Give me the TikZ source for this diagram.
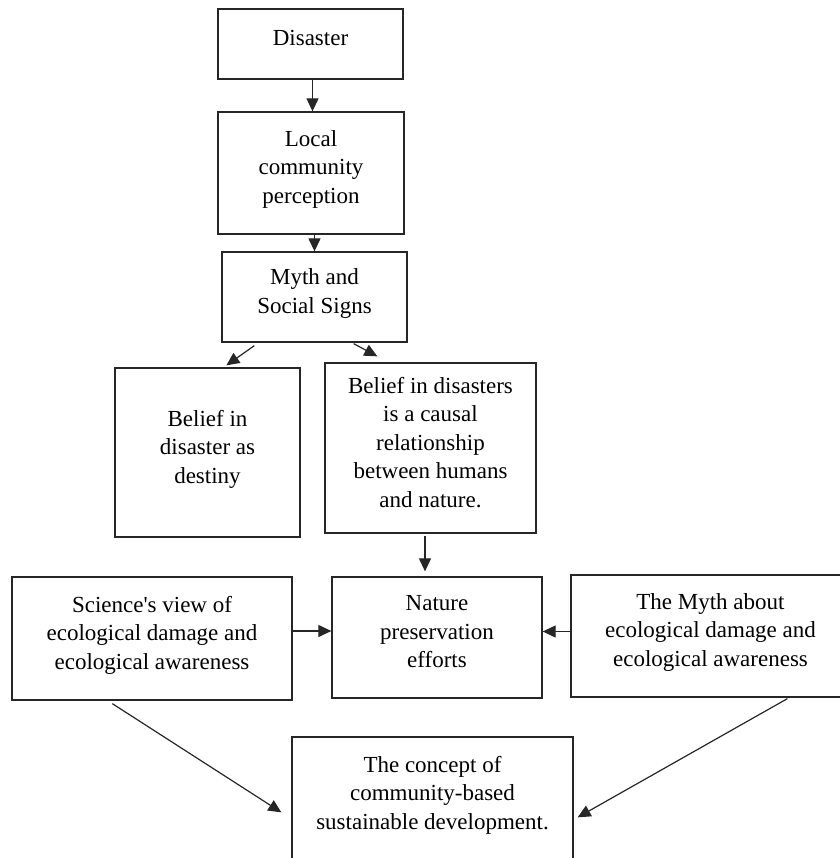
\documentclass[tikz,border=0pt]{standalone}
\usepackage{fontspec}
\setmainfont{Liberation Serif}
\usepackage{tikz}
\usetikzlibrary{arrows.meta}

\newcommand{\liftup}{\rule[-12pt]{0pt}{0pt}}

\begin{document}
\begin{tikzpicture}[x=1pt,y=-1pt,
 box/.style={draw=black!85, line width=1.3pt, inner sep=0pt, align=center,
  font=\fontsize{23}{28.5}\selectfont, execute at end node=\liftup},
 arr/.style={-{Triangle[length=13pt,width=12pt]}, line width=1.2pt, draw=black!85}]

 \useasboundingbox (0,0) rectangle (839,858);

 \path (310.5,44) node(disaster)[box, minimum width=185pt, minimum height=70pt]{Disaster};
 \path (311,173) node(local)[box, minimum width=186pt, minimum height=122pt]{Local\\community\\perception};
 \path (314.5,297) node(myth)[box, minimum width=185pt, minimum height=90pt]{Myth and\\Social Signs};
 \path (207.5,452.5) node(destiny)[box, minimum width=185pt, minimum height=169pt]{Belief in\\disaster as\\destiny};
 \path (430.5,448) node(causal)[box, minimum width=211pt, minimum height=170pt]{Belief in disasters\\is a causal\\relationship\\between humans\\and nature.};
 \path (152,638.5) node(science)[box, minimum width=280pt, minimum height=123pt]{Science\textquotesingle s view of\\ecological damage and\\ecological awareness};
 \path (437,637.5) node(nature)[box, minimum width=210pt, minimum height=121pt]{Nature\\preservation\\efforts};
 \path (710.5,636) node(mythabout)[box, minimum width=279pt, minimum height=122pt]{The Myth about\\ecological damage and\\ecological awareness};
 \path (432.5,798.5) node(concept)[box, minimum width=281pt, minimum height=123pt]{The concept of\\community-based\\sustainable development.};

 \draw[arr] ([xshift=2pt]disaster.south) -- ([xshift=2pt]disaster.south |- local.north);
 \draw[arr] (myth.north |- local.south) -- (myth.north);
 \draw[arr] ([shift={(33,3)}]myth.south west) -- ([shift={(112,-2)}]destiny.north west);
 \draw[arr] ([shift={(-54,1)}]myth.south east) -- ([shift={(53,-6)}]causal.north west);
 \draw[arr, shorten <=2pt, shorten >=5pt] ([xshift=-5.5pt]causal.south) -- ([xshift=-5.5pt]causal.south |- nature.north);
 \draw[arr] ([yshift=7.5pt]science.east) -- ([yshift=7.5pt]science.east -| nature.west);
 \draw[arr] ([yshift=4.5pt]mythabout.west) -- ([yshift=4.5pt]mythabout.west -| nature.east);
 \draw[arr] ([shift={(101,3)}]science.south west) -- ([shift={(-10,76)}]concept.north west);
 \draw[arr] ([shift={(217,1)}]mythabout.south west) -- ([shift={(4,81)}]concept.north east);
\end{tikzpicture}
\end{document}
